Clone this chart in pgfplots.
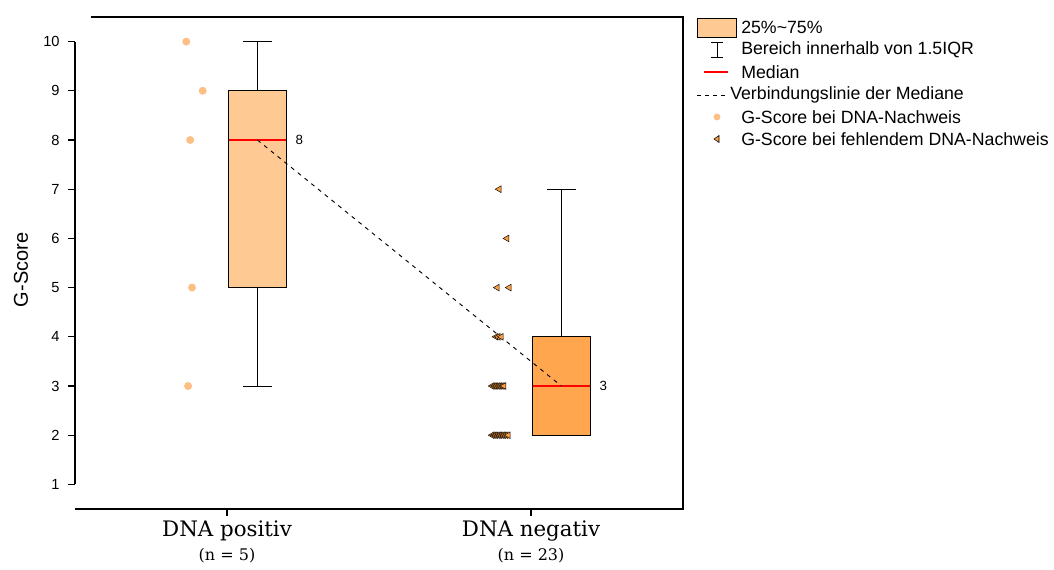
\documentclass[border=0pt]{standalone}
\usepackage{pgfplots}
\pgfplotsset{compat=1.18}
\usepgfplotslibrary{statistics}
\usepackage{fontspec}
\setmainfont{Liberation Sans}
\newfontfamily\slab{DejaVu Serif}
\definecolor{boxA}{HTML}{FFC994}
\definecolor{boxB}{HTML}{FFA64F}
\definecolor{dotA}{HTML}{FDBF85}
\definecolor{triB}{HTML}{FFA040}
\begin{document}
\begin{tikzpicture}
\useasboundingbox (0,0) rectangle (790.5pt,-427.5pt);
\begin{axis}[
  at={(56.25pt,-381.75pt)}, anchor=south west,
  scale only axis, width=456pt, height=369pt,
  xmin=0.5, xmax=2.5, ymin=0.5, ymax=10.5,
  clip=false,
  boxplot/draw direction=y,
  axis line style={draw=none},
  xtick={1,2}, xticklabels={{\slab DNA positiv}\\{\slab\fontsize{12}{14}\selectfont (n = 5)}, {\slab DNA negativ}\\{\slab\fontsize{12}{14}\selectfont (n = 23)}},
  xticklabel style={align=center, font=\fontsize{16}{18}\selectfont},
  ytick={1,2,...,10},
  yticklabel style={font=\fontsize{11}{12}\selectfont, xshift=-3pt},
  /pgf/number format/assume math mode=true,
  xtick pos=bottom, ytick pos=left,
  tick align=outside, major tick length=5pt,
  tick style={black, line width=0.8pt},
  ylabel={G-Score},
  ylabel style={font=\fontsize{15}{15}\selectfont, at={(axis description cs:-0.089,0.486)}, anchor=center, rotate=0},
]
% boxes
\addplot[draw=black, fill=boxA, line width=0.65pt,
  boxplot prepared={lower whisker=3, lower quartile=5, median=8, upper quartile=9, upper whisker=10,
    draw position=1.1, box extend=0.19, whisker extend=0.096,
    every median/.style={draw=red, line width=2pt}}]
  coordinates {};
\addplot[draw=black, fill=boxB, line width=0.65pt,
  boxplot prepared={lower whisker=2, lower quartile=2, median=3, upper quartile=4, upper whisker=7,
    draw position=2.1, box extend=0.19, whisker extend=0.096,
    every median/.style={draw=red, line width=2pt}}]
  coordinates {};
% median connection
\addplot[black, line width=0.7pt, dash pattern=on 3pt off 3.5pt] coordinates {(1.1,8) (2.1,3)};
% points DNA positiv
\addplot[only marks, mark=*, mark size=2.75pt, mark options={fill=dotA, draw=dotA}]
  coordinates {(0.866,10) (0.920,9) (0.879,8) (0.885,5) (0.872,3)};
% points DNA negativ
\addplot[only marks, mark=triangle*, mark size=2.9pt, mark options={rotate=90, fill=triB, draw=black, line width=0.35pt}]
  coordinates {
  (1.895,7) (1.921,6) (1.889,5) (1.928,5)
  (1.885,4) (1.892,4) (1.902,4)
  (1.872,3) (1.879,3) (1.885,3) (1.892,3) (1.898,3) (1.905,3) (1.911,3)
  (1.872,2) (1.879,2) (1.885,2) (1.892,2) (1.898,2) (1.905,2) (1.911,2) (1.918,2) (1.925,2)};
\node[anchor=west, font=\fontsize{10}{12}\selectfont] at (axis cs:1.21,8) {8};
\node[anchor=west, font=\fontsize{10}{12}\selectfont] at (axis cs:2.21,3) {3};
% frame
\draw[line width=1pt] (axis cs:0.5,1) -- (axis cs:0.5,10);
\draw[line width=1pt] (axis cs:0.552,10.5) -- (axis cs:2.5,10.5) -- (axis cs:2.5,0.5) -- (axis cs:0.5,0.5);
\end{axis}
% legend (pixel coordinates, origin top-left)
\begin{scope}[x=0.75pt, y=-0.75pt, font=\fontsize{13.3}{14}\selectfont]
\draw[fill=boxA, line width=0.65pt] (697,18) rectangle (736,37);
\node[anchor=west, inner sep=0] at (741,27) {25\%\textasciitilde 75\%};
\draw[line width=0.7pt] (717,42) -- (717,57) (711,42) -- (723,42) (711,57) -- (723,57);
\node[anchor=west, inner sep=0] at (741,50) {Bereich innerhalb von 1.5IQR};
\draw[red, line width=2pt] (704,72) -- (728,72);
\node[anchor=west, inner sep=0] at (741,72) {Median};
\draw[line width=0.7pt, dash pattern=on 3pt off 3pt] (697,95) -- (727,95);
\node[anchor=west, inner sep=0] at (730,95) {Verbindungslinie der Mediane};
\fill[dotA] (717,117) circle (2.6pt);
\node[anchor=west, inner sep=0] at (741,117) {G-Score bei DNA-Nachweis};
\draw[fill=triB, line width=0.4pt] (714,139) -- (719,135.5) -- (719,142.5) -- cycle;
\node[anchor=west, inner sep=0] at (741,139) {G-Score bei fehlendem DNA-Nachweis};
\end{scope}
\end{tikzpicture}
\end{document}
